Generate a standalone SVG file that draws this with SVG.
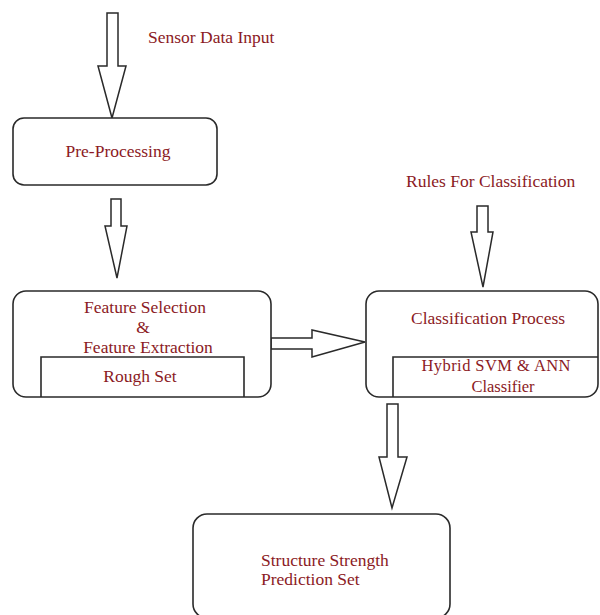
<svg xmlns="http://www.w3.org/2000/svg" width="600" height="615" viewBox="0 0 600 615">
<style>
.box{fill:#fff;stroke:#2a2a2a;stroke-width:1.6}
.inner{fill:none;stroke:#2a2a2a;stroke-width:1.6}
.arrow{fill:#fff;stroke:#2a2a2a;stroke-width:1.5;stroke-linejoin:miter}
text{font-family:"Liberation Serif","Times New Roman",serif;font-size:17.5px;fill:#8b1a24}
.c{text-anchor:middle}
.s{font-size:16.5px}
</style>
<rect width="600" height="615" fill="#fff"/>
<g id="connectors">
<polygon class="arrow" points="107,13 118,13 118,66 126,66 112,118 98,66 107,66"/>
<polygon class="arrow" points="111,199 121,199 121,226 127,226 117,278 105,226 111,226"/>
<polygon class="arrow" points="477,206 488,206 488,232 493,232 483,287 471,232 477,232"/>
<polygon class="arrow" points="271,338 312,338 312,330 365,342 312,357 312,349 271,349"/>
<polygon class="arrow" points="387,404 398,404 398,457 407,457 392,508 379,457 387,457"/>
</g>
<g id="label-sensor">
<text x="148" y="43">Sensor Data Input</text>
</g>
<g id="label-rules">
<text x="406" y="187">Rules For Classification</text>
</g>
<g id="node-preprocessing">
<rect class="box" x="13" y="118" width="204" height="67" rx="11"/>
<text class="c" x="118" y="157">Pre-Processing</text>
</g>
<g id="node-feature">
<rect class="box" x="13" y="291" width="258" height="106" rx="13"/>
<path class="inner" d="M41,397 V357 H244 V397"/>
<text class="c" x="145" y="313">Feature Selection</text>
<text class="c" x="143" y="333">&amp;</text>
<text class="c" x="148" y="353">Feature Extraction</text>
<text class="c" x="140" y="382">Rough Set</text>
</g>
<g id="node-classification">
<rect class="box" x="366" y="291" width="232" height="106" rx="13"/>
<path class="inner" d="M393,397 V357 H598"/>
<text class="c" x="488" y="324">Classification Process</text>
<text class="c s" x="496" y="371" textLength="149">Hybrid SVM &amp; ANN</text>
<text class="c s" x="503" y="392">Classifier</text>
</g>
<g id="node-structure">
<rect class="box" x="193" y="514" width="257" height="104" rx="14"/>
<text x="261" y="566">Structure Strength</text>
<text x="261" y="585">Prediction Set</text>
</g>
</svg>
